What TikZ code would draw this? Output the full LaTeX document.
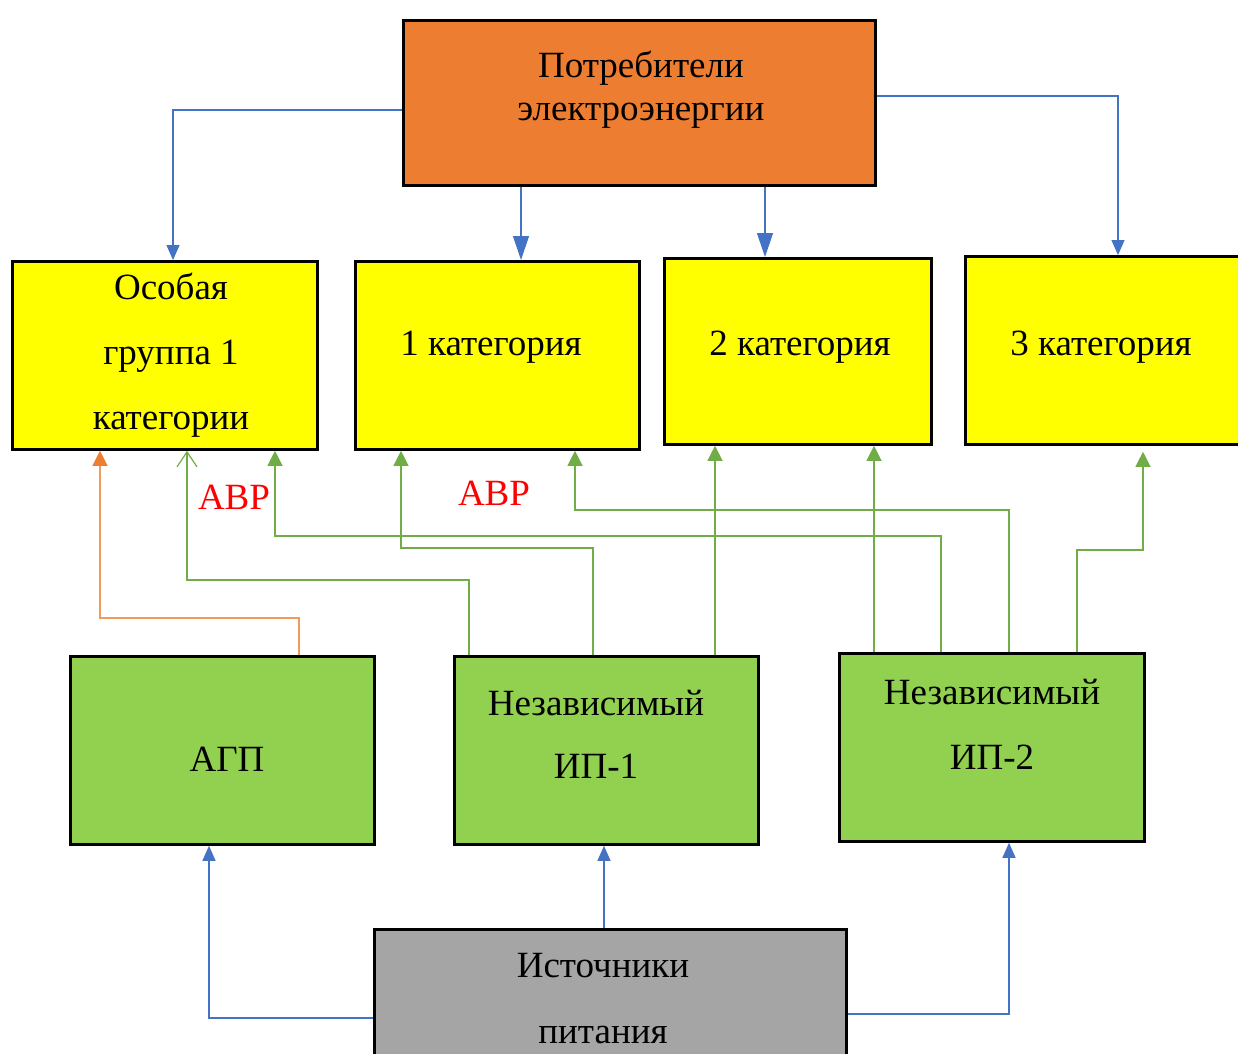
\documentclass[tikz,border=0pt]{standalone}
\usepackage{fontspec}
\setmainfont{Liberation Serif}
\usetikzlibrary{arrows.meta}
\definecolor{orng}{HTML}{ED7D31}
\definecolor{yel}{HTML}{FFFF00}
\definecolor{grn}{HTML}{92D050}
\definecolor{gry}{HTML}{A5A5A5}
\definecolor{bl}{HTML}{4472C4}
\definecolor{lg}{HTML}{70AD47}
\definecolor{lorng}{HTML}{F19A5C}
\tikzset{
  boxnode/.style={draw=black, line width=2.8pt, inner sep=0pt, anchor=north west},
  txt/.style={align=center, inner sep=0pt, font=\fontsize{37}{65}\selectfont},
  bline/.style={draw=bl, line width=1.2pt, -{Triangle[length=15pt,width=13pt]}},
  bbig/.style={draw=bl, line width=1.2pt, -{Triangle[length=24pt,width=16pt]}},
  gline/.style={draw=lg, line width=1.2pt, -{Triangle[length=15pt,width=15pt]}},
  gopen/.style={draw=lg, line width=1.2pt, -{Straight Barb[length=15pt,width=20pt]}},
  oline/.style={draw=lorng, line width=1.2pt, -{Triangle[length=15pt,width=15pt,fill=orng,color=orng]}},
}
\begin{document}
\begin{tikzpicture}[x=1pt,y=-1pt]
\useasboundingbox (0,0) rectangle (1238,1053);
\fill[white] (0,0) rectangle (1238,1053);
\clip (0,0) rectangle (1238,1053);
% boxes
\node[boxnode, fill=orng, minimum width=472pt, minimum height=165pt] (potr) at (402,19) {};
\node[boxnode, fill=yel, minimum width=305pt, minimum height=188pt] (osob) at (11,260) {};
\node[boxnode, fill=yel, minimum width=284pt, minimum height=188pt] (k1) at (354,260) {};
\node[boxnode, fill=yel, minimum width=267pt, minimum height=186pt] (k2) at (663,257) {};
\node[boxnode, fill=yel, minimum width=290pt, minimum height=188pt] (k3) at (964,255) {};
\node[boxnode, fill=grn, minimum width=304pt, minimum height=188pt] (agp) at (69,655) {};
\node[boxnode, fill=grn, minimum width=304pt, minimum height=188pt] (ip1) at (453,655) {};
\node[boxnode, fill=grn, minimum width=305pt, minimum height=188pt] (ip2) at (838,652) {};
\node[boxnode, fill=gry, minimum width=472pt, minimum height=160pt] (ist) at (373,928) {};
% texts
\node[txt, font=\fontsize{37}{43}\selectfont] (tpotr) at (641,90) {Потребители\\электроэнергии};
\node[txt] (tosob) at (171,355) {Особая\\группа 1\\категории};
\node[txt] (tk1) at (491,347) {1 категория};
\node[txt] (tk2) at (800,347) {2 категория};
\node[txt] (tk3) at (1101,347) {3 категория};
\node[txt] (tagp) at (227,759) {АГП};
\node[txt, font=\fontsize{37}{63}\selectfont] (tip1) at (596,734) {Независимый\\ИП-1};
\node[txt] (tip2) at (992,724) {Независимый\\ИП-2};
\node[txt, font=\fontsize{37}{66}\selectfont] (tist) at (603,999) {Источники\\питания};
\node[txt, text=red] (avr1) at (234,497) {АВР};
\node[txt, text=red] (avr2) at (494,493) {АВР};
% blue top connectors
\draw[bline] (potr.west |- 0,110) -- (173,110) -- (osob.north -| 173,0);
\draw[bbig] (potr.south -| 521,0) -- (k1.north -| 521,0);
\draw[bbig] (potr.south -| 765,0) -- (k2.north -| 765,0);
\draw[bline] (potr.east |- 0,96) -- (1118,96) -- (k3.north -| 1118,0);
% blue bottom connectors
\draw[bline] (ist.west |- 0,1018) -- (209,1018) -- (agp.south -| 209,0);
\draw[bline] (ist.north -| 604,0) -- (ip1.south -| 604,0);
\draw[bline] (ist.east |- 0,1014) -- (1009,1014) -- (ip2.south -| 1009,0);
% orange
\draw[oline] (agp.north -| 299,0) -- (299,618) -- (100,618) -- (osob.south -| 100,0);
% green from IP-1
\draw[gopen] (ip1.north -| 469,0) -- (469,580) -- (187,580) -- (osob.south -| 187,0);
\draw[gline] (ip1.north -| 593,0) -- (593,548) -- (401,548) -- (k1.south -| 401,0);
\draw[gline] (ip1.north -| 715,0) -- (k2.south -| 715,0);
% green from IP-2
\draw[gline] (ip2.north -| 874,0) -- (k2.south -| 874,0);
\draw[gline] (ip2.north -| 941,0) -- (941,536) -- (275,536) -- (osob.south -| 275,0);
\draw[gline] (ip2.north -| 1009,0) -- (1009,510) -- (575,510) -- (k1.south -| 575,0);
\draw[gline, shorten >=6pt] (ip2.north -| 1077,0) -- (1077,550) -- (1143,550) -- (k3.south -| 1143,0);
\end{tikzpicture}
\end{document}
